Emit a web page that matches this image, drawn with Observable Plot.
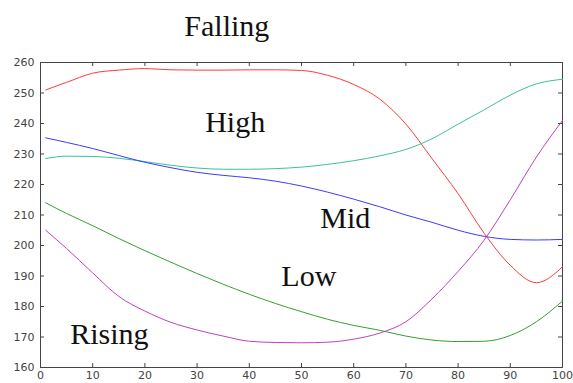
<!DOCTYPE html>
<html><head><meta charset="utf-8">
<script src="https://cdn.jsdelivr.net/npm/d3@7"></script>
<script src="https://cdn.jsdelivr.net/npm/@observablehq/plot@0.6"></script>
<style>
html,body{margin:0;padding:0;background:#fff;}
#chart{width:573px;height:383px;}
</style>
</head><body><div id="chart"></div>
<script>
const xs = [1,5,10,15,20,25,30,35,40,45,50,55,60,65,70,75,80,85,90,95,100];
const red =     [251,253.5,256.5,257.5,258,257.6,257.5,257.5,257.6,257.6,257.4,255.8,252.8,248,239.8,228.5,217,204,193.5,187.8,193];
const teal =    [228.5,229.3,229.2,228.6,227.5,226.3,225.4,225,225,225.2,225.7,226.6,227.8,229.4,231.5,235,239.8,244.5,249.3,253,254.5];
const blue =    [235.3,233.8,231.8,229.5,227.3,225.5,224,223,222.2,221.1,219.5,217.5,215.2,212.7,210,207.6,205,203,202,201.8,202];
const green =   [214,210.5,206.5,202.3,198.3,194.5,190.8,187.3,184,181,178.3,175.8,173.8,172.2,170.3,169,168.5,168.6,170.5,175,181.8];
const magenta = [205,199,191,183.3,178.5,174.8,172.3,170.3,168.6,168.2,168.1,168.3,169.3,171.3,175,182.5,191.5,201.8,215,229,241];
const seriesNames = ["red","teal","blue","green","magenta"];
const seriesColors = ["#ff3a3a","#3cbf9f","#3a3aff","#34a034","#c040c0"];
const xTicks = [0,10,20,30,40,50,60,70,80,90,100];
const yTicks = [160,170,180,190,200,210,220,230,240,250,260];
const labelText = ["Falling","High","Mid","Low","Rising"];
const labelX = [35.7,37.3,58.4,51.4,13.2];
const labelY = [268.7,237.3,205.9,186.6,167.6];

const allSeries = [red, teal, blue, green, magenta];
const labels = labelText.map((t, i) => ({text: t, x: labelX[i], y: labelY[i]}));

const W = 573, H = 383, mt = 62, mb = 16, ml = 40, mr = 11;
const ph = H - mt - mb, pw = W - ml - mr, tk = 4;

const lineMarks = allSeries.map((vals, i) =>
  Plot.line(vals.map((v, j) => ({x: xs[j], y: v})), {x: "x", y: "y", stroke: seriesColors[i], strokeWidth: 1, curve: "monotone-x"})
);

const chart = Plot.plot({
  width: W, height: H,
  marginTop: mt, marginBottom: mb, marginLeft: ml, marginRight: mr,
  style: {fontFamily: "DejaVu Sans", fontSize: "11px", color: "#444", background: "#fff"},
  x: {domain: [0, 100], label: null},
  y: {domain: [160, 260], label: null},
  marks: [
    Plot.axisX(xTicks, {anchor: "bottom", tickSize: 0, tickPadding: 4, fill: "#444", letterSpacing: "1px", label: null}),
    Plot.axisY(yTicks, {anchor: "left", tickSize: 0, tickPadding: 6, fill: "#444", letterSpacing: "1px", label: null}),
    Plot.ruleX(xTicks, {x: d => d, insetTop: ph - tk, stroke: "#444"}),
    Plot.ruleX(xTicks, {x: d => d, insetBottom: ph - tk, stroke: "#444"}),
    Plot.ruleY(yTicks, {y: d => d, insetRight: pw - tk, stroke: "#444"}),
    Plot.ruleY(yTicks, {y: d => d, insetLeft: pw - tk, stroke: "#444"}),
    Plot.frame({stroke: "#444"}),
    ...lineMarks,
    Plot.text(labels, {x: "x", y: "y", text: "text", lineAnchor: "bottom", fontFamily: "Liberation Serif", fontSize: 30, fill: "#111", clip: false})
  ]
});
document.getElementById("chart").appendChild(chart);
</script>
</body></html>
